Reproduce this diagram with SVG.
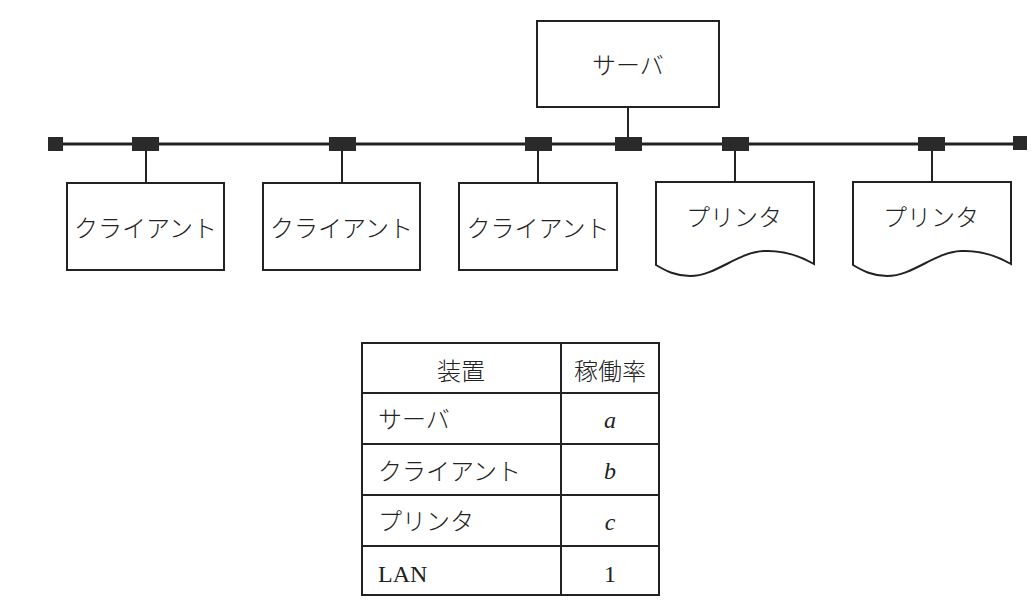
<svg xmlns="http://www.w3.org/2000/svg" width="1035" height="605" viewBox="0 0 1035 605">
<style>
.box{fill:#fff;stroke:#222;stroke-width:2}
.ln{stroke:#222;stroke-width:2;fill:none}
.bus{stroke:#222;stroke-width:3}
.blk{fill:#2a2a2a}
.jp{font-family:"Noto Sans CJK JP","Noto Sans",sans-serif;font-size:24px;font-weight:300;fill:#222}
.sf{font-family:"Liberation Serif",serif;font-size:24px;fill:#222}
.it{font-style:italic}
</style>
<defs>
<path id="printer" d="M0,0 H158 V82 C144,74 128,68 108,69 C82,70 60,94 34,94 C20,94 10,89 0,83 Z"/>
</defs>
<rect width="1035" height="605" fill="#fff"/>
<g id="connectors">
<line class="bus" x1="55" y1="144" x2="1020" y2="144"/>
<line class="ln" x1="146" y1="151" x2="146" y2="183"/>
<line class="ln" x1="342" y1="151" x2="342" y2="183"/>
<line class="ln" x1="538" y1="151" x2="538" y2="183"/>
<line class="ln" x1="628" y1="107" x2="628" y2="137"/>
<line class="ln" x1="735" y1="151" x2="735" y2="182"/>
<line class="ln" x1="932" y1="151" x2="932" y2="182"/>
<rect class="blk" x="48" y="137" width="15" height="14"/>
<rect class="blk" x="1013" y="136" width="14" height="14"/>
<rect class="blk" x="132" y="137" width="27" height="14"/>
<rect class="blk" x="329" y="137" width="27" height="14"/>
<rect class="blk" x="525" y="137" width="27" height="14"/>
<rect class="blk" x="615" y="137" width="27" height="14"/>
<rect class="blk" x="722" y="137" width="27" height="14"/>
<rect class="blk" x="918" y="137" width="27" height="14"/>
</g>
<g id="server">
<rect class="box" x="537" y="21" width="182" height="86"/>
<text class="jp" x="628" y="63" text-anchor="middle" dominant-baseline="central">サーバ</text>
</g>
<g id="client1">
<rect class="box" x="67" y="183" width="157" height="87"/>
<text class="jp" x="145.5" y="226" text-anchor="middle" dominant-baseline="central">クライアント</text>
</g>
<g id="client2">
<rect class="box" x="263" y="183" width="157" height="87"/>
<text class="jp" x="341.5" y="226" text-anchor="middle" dominant-baseline="central">クライアント</text>
</g>
<g id="client3">
<rect class="box" x="459" y="183" width="158" height="87"/>
<text class="jp" x="538" y="226" text-anchor="middle" dominant-baseline="central">クライアント</text>
</g>
<g id="printer1">
<use href="#printer" class="box" x="656" y="182"/>
<text class="jp" x="734" y="215" text-anchor="middle" dominant-baseline="central">プリンタ</text>
</g>
<g id="printer2">
<use href="#printer" class="box" x="853" y="182"/>
<text class="jp" x="931" y="215" text-anchor="middle" dominant-baseline="central">プリンタ</text>
</g>
<g id="table">
<rect class="box" x="362" y="343" width="297" height="252"/>
<line class="ln" x1="561" y1="343" x2="561" y2="595"/>
<line class="ln" x1="362" y1="393" x2="659" y2="393"/>
<line class="ln" x1="362" y1="444" x2="659" y2="444"/>
<line class="ln" x1="362" y1="495" x2="659" y2="495"/>
<line class="ln" x1="362" y1="546" x2="659" y2="546"/>
<text class="jp" x="461" y="369" text-anchor="middle" dominant-baseline="central">装置</text>
<text class="jp" x="610" y="369" text-anchor="middle" dominant-baseline="central">稼働率</text>
<text class="jp" x="378" y="417" dominant-baseline="central">サーバ</text>
<text class="jp" x="378" y="469" dominant-baseline="central">クライアント</text>
<text class="jp" x="378" y="519" dominant-baseline="central">プリンタ</text>
<text class="sf" x="378" y="582">LAN</text>
<text class="sf it" x="610" y="428" text-anchor="middle">a</text>
<text class="sf it" x="610" y="479" text-anchor="middle">b</text>
<text class="sf it" x="610" y="530" text-anchor="middle">c</text>
<text class="sf" x="610" y="582" text-anchor="middle">1</text>
</g>
</svg>
